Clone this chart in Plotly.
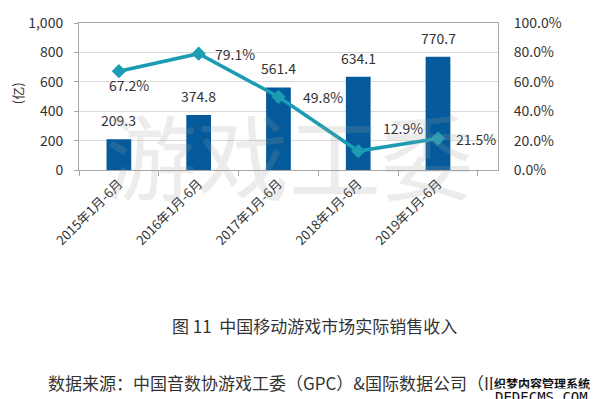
import plotly.graph_objects as go

categories = ["2015年1月-6月", "2016年1月-6月", "2017年1月-6月", "2018年1月-6月", "2019年1月-6月"]
revenue = [209.3, 374.8, 561.4, 634.1, 770.7]
growth = [67.2, 79.1, 49.8, 12.9, 21.5]
growth_labels = ["67.2%", "79.1%", "49.8%", "12.9%", "21.5%"]
# label offsets (px) for growth annotations
growth_offsets = [(10, -14), (36, 0), (45, 0), (45, 23), (38, -1)]

FONT = "Noto Sans CJK SC, Microsoft YaHei, sans-serif"
BAR = "#045a9a"
LINE = "#1b9cb3"
TXT = "#333333"

fig = go.Figure()
fig.add_trace(go.Bar(
    x=categories, y=revenue, marker=dict(color=BAR, line=dict(width=0)),
    width=0.31, yaxis="y"))
fig.add_trace(go.Scatter(
    x=categories, y=growth, mode="lines+markers", yaxis="y2",
    line=dict(color=LINE, width=3.5),
    marker=dict(symbol="diamond", size=11, color=LINE), cliponaxis=False))

for c, v in zip(categories, revenue):
    fig.add_annotation(x=c, y=v, yref="y", text=f"{v:.1f}", showarrow=False,
                       yshift=19, yanchor="middle", font=dict(size=14, color=TXT, family=FONT))

for c, g, lab, (dx, dy) in zip(categories, growth, growth_labels, growth_offsets):
    fig.add_annotation(x=c, y=g, yref="y2", text=lab, showarrow=False,
                       xshift=dx, yshift=dy, font=dict(size=14, color=TXT, family=FONT))

def px(xp, yp):
    return (xp - 79) / 420, (170 - yp) / 147

# watermark
wx, wy = px(290, 152)
fig.add_annotation(x=wx, y=wy, xref="paper", yref="paper", text="游戏工委",
                   xanchor="center", yanchor="middle",
                   showarrow=False, font=dict(size=92, color="rgba(160,160,160,0.2)", family=FONT))

ax_, ay_ = px(17, 93)
fig.add_annotation(x=ax_, y=ay_, xref="paper", yref="paper", text="(亿)", textangle=-90,
                   xanchor="center", yanchor="middle",
                   showarrow=False, font=dict(size=13, color=TXT, family=FONT))

tx, ty = px(315, 325)
fig.add_annotation(x=tx, y=ty, xref="paper", yref="paper",
                   text="图 11  中国移动游戏市场实际销售收入", showarrow=False,
                   xanchor="center", yanchor="middle", font=dict(size=17, color=TXT, family=FONT))
sx, sy = px(46, 382)
fig.add_annotation(x=sx, y=sy, xref="paper", yref="paper", xanchor="left", yanchor="middle",
                   text="数据来源：中国音数协游戏工委（GPC）&国际数据公司（IDC）", showarrow=False,
                   font=dict(size=17, color=TXT, family=FONT))
lx, ly = px(543, 383)
fig.add_annotation(x=lx, y=ly, xref="paper", yref="paper", xanchor="center", yanchor="middle",
                   text="<b>织梦内容管理系统</b>", showarrow=False, bgcolor="white", borderpad=1,
                   font=dict(size=12, color="#111111", family=FONT))
lx2, ly2 = px(543, 397)
fig.add_annotation(x=lx2, y=ly2, xref="paper", yref="paper", xanchor="center", yanchor="middle",
                   text="DEDECMS.COM", showarrow=False, bgcolor="white", borderpad=0,
                   font=dict(size=14, color="#111111", family="DejaVu Sans Mono"))

fig.update_layout(
    width=600, height=399, margin=dict(l=79, r=102, t=23, b=229),
    paper_bgcolor="white", plot_bgcolor="white", showlegend=False,
    font=dict(family=FONT, color=TXT),
    xaxis=dict(type="category", tickangle=-45, showline=True, linecolor="#a6a6a6", linewidth=1,
               mirror=True, ticks="outside", ticklen=5, tickcolor="#a6a6a6", automargin=False,
               tickson="boundaries", tickfont=dict(size=13, color=TXT, family=FONT)),
    yaxis=dict(range=[0, 1000], dtick=200, tickformat=",d", showgrid=True, gridcolor="#d9d9d9",
               showline=True, linecolor="#a6a6a6", ticks="outside", ticklen=4, tickcolor="#a6a6a6",
               ticklabelstandoff=8, automargin=False,
               tickfont=dict(size=14, color=TXT, family=FONT), zeroline=False),
    yaxis2=dict(range=[0, 100], dtick=20, overlaying="y", side="right", showgrid=False,
                showline=True, linecolor="#a6a6a6", ticksuffix="%", tickformat=".1f",
                ticklabelstandoff=12, automargin=False,
                tickfont=dict(size=14, color=TXT, family=FONT), zeroline=False),
)

fig.write_html("out.html", config={"displayModeBar": False},
               post_script="document.body.style.margin='0';document.body.style.overflow='hidden';")
